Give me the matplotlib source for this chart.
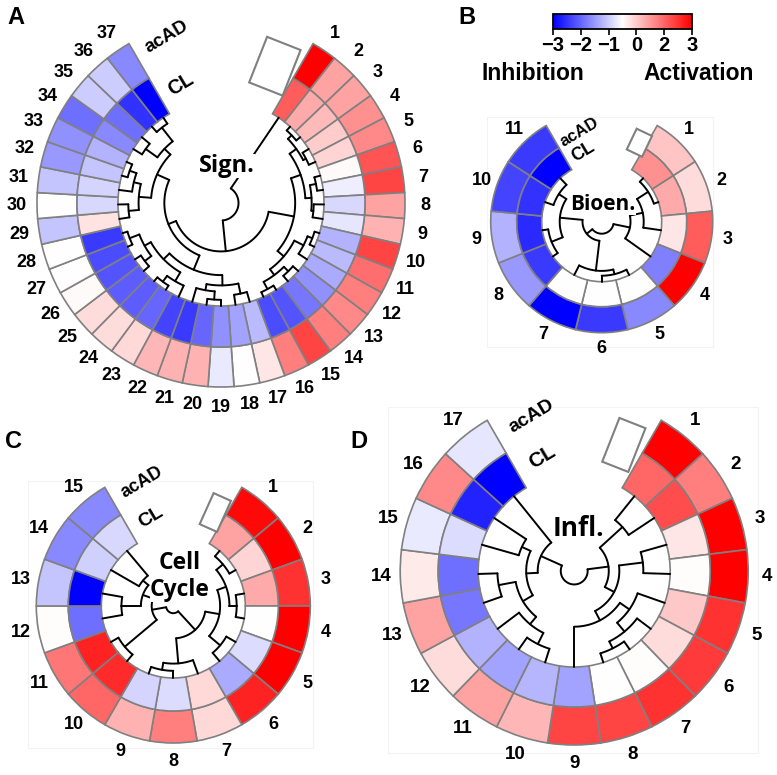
import numpy as np
import matplotlib
matplotlib.use("Agg")
import matplotlib.pyplot as plt
from matplotlib.patches import Wedge, Polygon, Rectangle
from matplotlib.colors import Normalize
from matplotlib.cm import ScalarMappable

W, H = 777, 775

# ---------------- data ----------------
# Panel A  (Signalling), 37 pathways
A_acAD = [3.0, 1.1, 1.1, 1.3, 1.4, 2.0, 2.2, 1.1, 0.9, 2.2, 1.7, 1.5, 1.4, 1.5, 2.2, 1.5,
          0.3, 0.0, -0.25, 0.9, 0.9, 0.85, 0.45, 0.4, 0.4, 0.05, 0.0, 0.0, -0.7, 0.0,
          -0.7, -1.2, -1.3, -1.7, -0.6, -0.6, -1.4]
A_CL = [1.9, 1.0, 0.8, 0.6, 0.5, 0.05, -0.2, -0.45, -0.3, -0.9, -0.8, -1.0, -1.3, -1.6,
        -2.0, -2.1, -0.8, -1.1, -1.3, -1.8, -2.3, -2.2, -1.8, -1.9, -1.9, -2.0, -2.1,
        -2.3, 0.35, -0.45, -0.5, -0.7, -0.9, -1.4, -1.7, -2.4, -3.0]
A_tree = [0.17, 1,
          [0.47,
           [0.72, [0.82, [0.9, [0.95, 2, 3], [0.93, 4, 5]], [0.88, [0.94, 6, 7], [0.9, 8, 9]]],
                  [0.8, [0.9, [0.95, 10, 11], 12], [0.87, [0.93, 13, 14], [0.95, 15, 16]]]],
           [0.55,
            [0.7, [0.8, [0.9, 17, 18], [0.86, [0.94, 19, 20], 21]],
                  [0.78, [0.88, 22, [0.95, 23, 24]], [0.85, [0.93, 25, 26], [0.95, 27, 28]]]],
            [0.68, [0.8, [0.9, 29, 30], [0.87, 31, [0.94, 32, 33]]],
                   [0.76, [0.9, 34, 35], [0.93, 36, 37]]]]]]

# Panel B  (Bioenergetics), 11 pathways
B_acAD = [0.7, 0.4, 1.9, 3.0, -1.4, -2.3, -3.0, -1.2, -0.9, -2.2, -2.3]
B_CL = [1.3, 1.0, 0.3, -1.5, 0.0, 0.0, 0.02, -2.3, -2.5, -2.4, -3.0]
B_tree = [0.2, [0.48, [0.7, [0.92, 1, 2], 3], 4],
          [0.32, [0.82, [0.9, 5, 6], 7], [0.7, [0.9, 8, 9], [0.85, 10, 11]]]]

# Panel C  (Cell cycle), 15 pathways
C_acAD = [2.9, 3.0, 2.4, 3.0, 3.0, 2.6, 0.45, 1.5, 0.9, 1.8, 1.6, 0.03, -0.7, -1.4, -1.4]
C_CL = [1.1, 0.5, 1.0, 0.0, -0.4, -1.0, 0.45, -0.4, -0.5, 2.5, 2.6, -1.7, -3.0, -0.55, -0.45]
C_tree = [0.1, [0.45, [0.65, [0.78, [0.9, 1, 2], [0.88, 3, 4]], [0.85, 5, 6]],
                [0.8, 7, [0.9, 8, 9]]],
          [0.3, [0.88, 10, 11], [0.45, [0.72, 12, 13], [0.55, 14, 15]]]]

# Panel D  (Inflammation), 17 pathways
D_acAD = [3.0, 1.5, 3.0, 3.0, 2.4, 2.3, 2.4, 2.2, 2.2, 0.85, 1.1, 0.4, 1.1, 0.25, -0.25, 1.4, -0.3]
D_CL = [1.8, 2.1, 0.3, 0.03, 0.65, 0.4, 0.03, 0.0, -1.1, -0.85, -1.1, -0.9, -1.6, -1.7, -0.4, -2.6, -3.0]
D_tree = [0.14, [0.36, [0.68, 1, 2], [0.47, [0.72, 3, 4], [0.58, [0.7, 5, [0.82, 6, [0.9, 7, 8]]], 9]]],
          [0.38, [0.5, [0.62, [0.72, [0.85, 10, 11], 12], [0.8, 13, 14]], [0.6, 15, 16]], 17]]

cbar_ticklabels = ["\u22123", "\u22122", "\u22121", "0", "2", "3"]

# ---------------- drawing ----------------
cmap = plt.get_cmap("bwr")
norm = Normalize(-3, 3)

fig = plt.figure(figsize=(W / 100, H / 100), dpi=100)
ax = fig.add_axes([0, 0, 1, 1])
ax.set_xlim(0, W)
ax.set_ylim(0, H)
ax.axis("off")

NUMF = dict(family=["Liberation Sans", "DejaVu Sans"], weight="bold")
LBLF = dict(family=["Open Sans", "DejaVu Sans"], weight="bold")
EDGE = "#808080"


def panel(cxi, cyi, r_in, r_mid, r_out, outer, inner, tree, lab_off, numsize, box):
    cx, cy = cxi, H - cyi
    n = len(outer)
    step = 300.0 / n
    ang = {k: 60 - (k - 0.5) * step for k in range(1, n + 1)}
    for k in range(1, n + 1):
        t2 = 60 - (k - 1) * step
        t1 = t2 - step
        ax.add_patch(Wedge((cx, cy), r_out, t1, t2, width=r_out - r_mid,
                           facecolor=cmap(norm(outer[k - 1])), edgecolor=EDGE, lw=1.2, zorder=2))
        ax.add_patch(Wedge((cx, cy), r_mid, t1, t2, width=r_mid - r_in,
                           facecolor=cmap(norm(inner[k - 1])), edgecolor=EDGE, lw=1.2, zorder=2))
        a = np.deg2rad(ang[k])
        rl = r_out + lab_off
        ax.text(cx + rl * np.cos(a), cy + rl * np.sin(a), str(k), ha="center", va="center",
                fontsize=numsize, zorder=5, **NUMF)

    def draw(node):
        if isinstance(node, int):
            return ang[node], r_in
        h, left, right = node
        r = h * r_in
        aL, rL = draw(left)
        aR, rR = draw(right)
        for a0, r0 in ((aL, rL), (aR, rR)):
            t = np.deg2rad(a0)
            ax.plot([cx + r0 * np.cos(t), cx + r * np.cos(t)],
                    [cy + r0 * np.sin(t), cy + r * np.sin(t)],
                    color="k", lw=1.4, solid_capstyle="round", zorder=3)
        ts = np.deg2rad(np.linspace(aL, aR, 80))
        ax.plot(cx + r * np.cos(ts), cy + r * np.sin(ts), color="k", lw=1.4,
                solid_capstyle="round", zorder=3)
        return (aL + aR) / 2, r

    draw(tree)

    # empty legend box in the gap
    rc, tc, bw, bh = box
    t = np.deg2rad(tc)
    u = np.array([np.cos(t), np.sin(t)])
    v = np.array([-np.sin(t), np.cos(t)])
    c = np.array([cx, cy]) + rc * u
    pts = [c - u * bh / 2 - v * bw / 2, c + u * bh / 2 - v * bw / 2,
           c + u * bh / 2 + v * bw / 2, c - u * bh / 2 + v * bw / 2]
    ax.add_patch(Polygon(pts, closed=True, facecolor="white", edgecolor=EDGE, lw=1.5, zorder=2))


def txt(x, y, s, size, font, rot=0, bg=False, **kw):
    bbox = dict(facecolor="white", edgecolor="none", pad=0.3) if bg else None
    ax.text(x, H - y, s, ha="center", va="center", fontsize=size, rotation=rot,
            bbox=bbox, zorder=6, **font, **kw)


# faint frames of pasted panels
for (x0, y0, x1, y1) in [(487, 117, 713, 347), (28, 481, 313, 748), (388, 407, 758, 753)]:
    ax.add_patch(Rectangle((x0, H - y1), x1 - x0, y1 - y0, fill=False,
                           edgecolor="#f3f3f3", lw=0.8, zorder=0))

panel(221, 203, 103, 144, 184, A_acAD, A_CL, A_tree, 20, 13, (147, 68.5, 36, 49))
panel(601.7, 221.7, 60, 85, 111, B_acAD, B_CL, B_tree, 16, 13, (87.5, 64.5, 17, 23))
panel(173.3, 606, 72, 105, 137, C_acAD, C_CL, C_tree, 18, 13, (102.5, 65.8, 19, 34))
panel(574.2, 571, 96, 136, 174, D_acAD, D_CL, D_tree, 19, 13.5, (135.5, 68.5, 28, 47))

# centre labels
txt(227, 166, "Sign.", 17, LBLF, bg=True)
txt(603, 204, "Bioen.", 15, LBLF, bg=True)
txt(180, 563, "Cell", 16.5, LBLF, bg=True)
txt(180, 590, "Cycle", 16.5, LBLF, bg=True)
txt(578, 528, "Infl.", 19, LBLF, bg=True)

# track labels
for (xa, ya, xc, yc, s) in [(167, 37, 181, 84, 13.5), (579, 131.7, 583.3, 152.3, 12),
                            (142.3, 482.3, 150.7, 517.3, 13), (531.7, 416.7, 542.3, 457.3, 14)]:
    txt(xa, ya, "acAD", s, NUMF, rot=31)
    txt(xc, yc, "CL", s + 1, NUMF, rot=31)

# panel letters
for (x, y, s) in [(16, 18, "A"), (467, 17, "B"), (14, 442, "C"), (359, 442, "D")]:
    txt(x, y, s, 17, NUMF)

txt(532.5, 73, "Inhibition", 16.5, NUMF)
txt(699, 73, "Activation", 16.5, NUMF)

# colour bar
cax = fig.add_axes([553 / W, 1 - 29 / H, 139 / W, 15 / H])
cb = fig.colorbar(ScalarMappable(norm=norm, cmap=cmap), cax=cax, orientation="horizontal",
                  ticks=np.linspace(-3, 3, 6))
cb.set_ticklabels(cbar_ticklabels)
cb.outline.set_linewidth(1.3)
cax.tick_params(length=4, width=1.2, direction="out", pad=1)
for lbl in cax.get_xticklabels():
    lbl.set_fontsize(14.5)
    lbl.set_fontweight("bold")
    lbl.set_family(["Liberation Sans", "DejaVu Sans"])

fig.savefig("out.png", dpi=100)
